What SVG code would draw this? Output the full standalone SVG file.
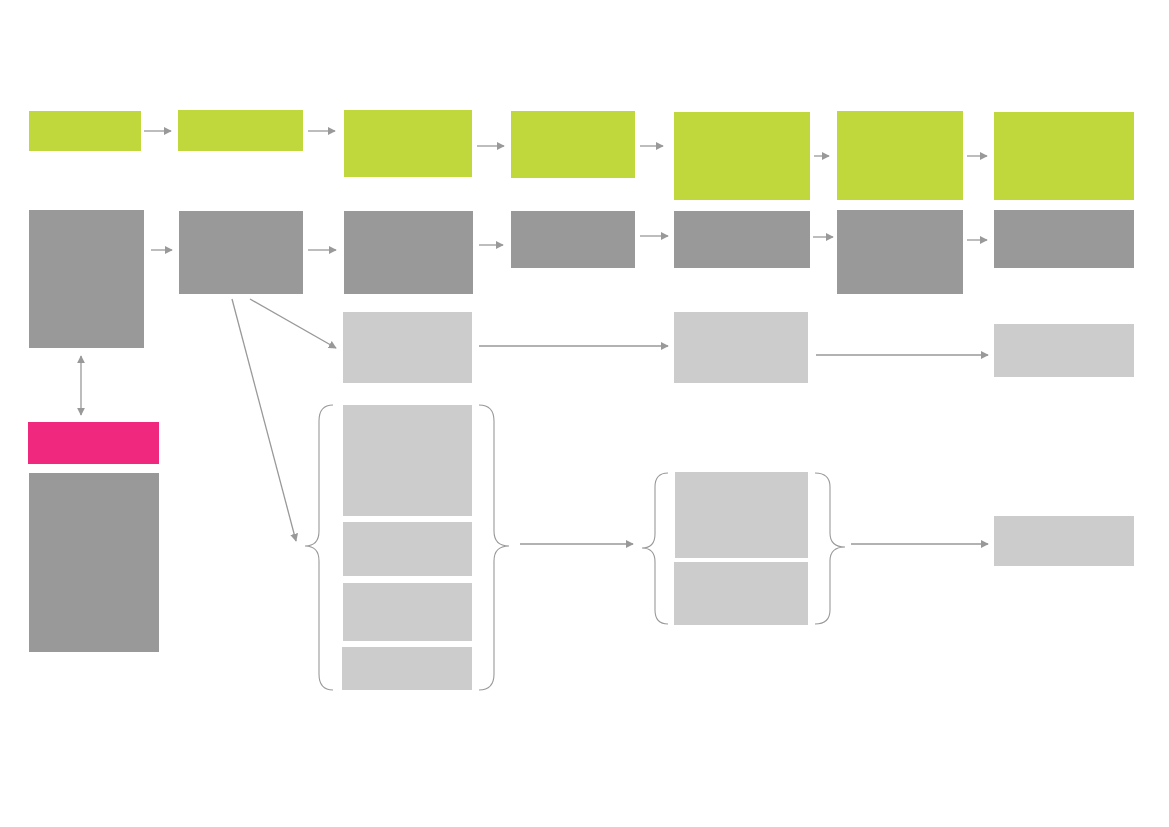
<svg xmlns="http://www.w3.org/2000/svg" width="1169" height="827" viewBox="0 0 1169 827">
<defs>
<style>
.g{fill:#c0d83b}
.d{fill:#999999}
.l{fill:#cccccc}
.p{fill:#f0287e}
.c{stroke:#999999;stroke-width:1.3;fill:none}
.b{stroke:#999999;stroke-width:1.1;fill:none}
</style>
<marker id="ah" viewBox="0 0 10 10" refX="9" refY="5" markerWidth="8" markerHeight="8" markerUnits="userSpaceOnUse" orient="auto-start-reverse">
<path d="M0,0 L10,5 L0,10 z" fill="#999999"/>
</marker>
</defs>
<rect width="1169" height="827" fill="#ffffff"/>
<g id="n-g1"><rect class="g" x="29" y="111" width="112" height="40"/></g>
<g id="n-g2"><rect class="g" x="178" y="110" width="125" height="41"/></g>
<g id="n-g3"><rect class="g" x="344" y="110" width="128" height="67"/></g>
<g id="n-g4"><rect class="g" x="511" y="111" width="124" height="67"/></g>
<g id="n-g5"><rect class="g" x="674" y="112" width="136" height="88"/></g>
<g id="n-g6"><rect class="g" x="837" y="111" width="126" height="89"/></g>
<g id="n-g7"><rect class="g" x="994" y="112" width="140" height="88"/></g>
<g id="n-d1"><rect class="d" x="29" y="210" width="115" height="138"/></g>
<g id="n-d2"><rect class="d" x="179" y="211" width="124" height="83"/></g>
<g id="n-d3"><rect class="d" x="344" y="211" width="129" height="83"/></g>
<g id="n-d4"><rect class="d" x="511" y="211" width="124" height="57"/></g>
<g id="n-d5"><rect class="d" x="674" y="211" width="136" height="57"/></g>
<g id="n-d6"><rect class="d" x="837" y="210" width="126" height="84"/></g>
<g id="n-d7"><rect class="d" x="994" y="210" width="140" height="58"/></g>
<g id="n-l1"><rect class="l" x="343" y="312" width="129" height="71"/></g>
<g id="n-l2"><rect class="l" x="674" y="312" width="134" height="71"/></g>
<g id="n-l3"><rect class="l" x="994" y="324" width="140" height="53"/></g>
<g id="n-pink"><rect class="p" x="28" y="422" width="131" height="42"/></g>
<g id="n-d8"><rect class="d" x="29" y="473" width="130" height="179"/></g>
<g id="n-s1">
<rect class="l" x="343" y="405" width="129" height="111"/>
<rect class="l" x="343" y="522" width="129" height="54"/>
<rect class="l" x="343" y="583" width="129" height="58"/>
<rect class="l" x="342" y="647" width="130" height="43"/>
<path class="b" d="M333,405 Q319,405 319,421 L319,531 Q319,546 305,546 Q319,546 319,561 L319,674 Q319,690 333,690"/>
<path class="b" d="M479,405 Q494,405 494,421 L494,531 Q494,546 509,546 Q494,546 494,561 L494,674 Q494,690 479,690"/>
</g>
<g id="n-s2">
<rect class="l" x="675" y="472" width="133" height="86"/>
<rect class="l" x="674" y="562" width="134" height="63"/>
<path class="b" d="M668,473 Q655,473 655,487 L655,534 Q655,548 642,548 Q655,548 655,562 L655,610 Q655,624 668,624"/>
<path class="b" d="M815,473 Q830,473 830,487 L830,533 Q830,547 845,547 Q830,547 830,561 L830,610 Q830,624 815,624"/>
</g>
<g id="n-l4"><rect class="l" x="994" y="516" width="140" height="50"/></g>
<g id="connectors">
<line class="c" x1="144" y1="131" x2="171" y2="131" marker-end="url(#ah)"/>
<line class="c" x1="308" y1="131" x2="335" y2="131" marker-end="url(#ah)"/>
<line class="c" x1="477" y1="146" x2="504" y2="146" marker-end="url(#ah)"/>
<line class="c" x1="640" y1="146" x2="663" y2="146" marker-end="url(#ah)"/>
<line class="c" x1="814" y1="156" x2="829" y2="156" marker-end="url(#ah)"/>
<line class="c" x1="967" y1="156" x2="987" y2="156" marker-end="url(#ah)"/>
<line class="c" x1="151" y1="250" x2="172" y2="250" marker-end="url(#ah)"/>
<line class="c" x1="308" y1="250" x2="336" y2="250" marker-end="url(#ah)"/>
<line class="c" x1="479" y1="245" x2="503" y2="245" marker-end="url(#ah)"/>
<line class="c" x1="640" y1="236" x2="668" y2="236" marker-end="url(#ah)"/>
<line class="c" x1="813" y1="237" x2="833" y2="237" marker-end="url(#ah)"/>
<line class="c" x1="967" y1="240" x2="987" y2="240" marker-end="url(#ah)"/>
<line class="c" x1="479" y1="346" x2="668" y2="346" marker-end="url(#ah)"/>
<line class="c" x1="816" y1="355" x2="988" y2="355" marker-end="url(#ah)"/>
<line class="c" x1="250" y1="299" x2="336" y2="348" marker-end="url(#ah)"/>
<line class="c" x1="232" y1="299" x2="296" y2="541" marker-end="url(#ah)"/>
<line class="c" x1="81" y1="356" x2="81" y2="415" marker-start="url(#ah)" marker-end="url(#ah)"/>
<line class="c" x1="520" y1="544" x2="633" y2="544" marker-end="url(#ah)"/>
<line class="c" x1="851" y1="544" x2="988" y2="544" marker-end="url(#ah)"/>
</g>
</svg>
